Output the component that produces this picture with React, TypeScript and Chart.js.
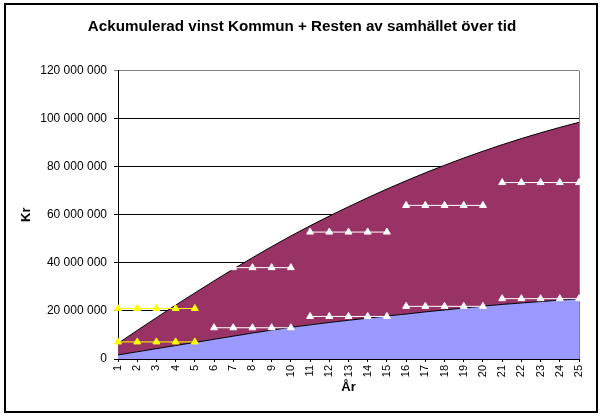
import React, { useEffect, useRef } from "react";
import { Chart, registerables } from "chart.js";

Chart.register(...registerables);

const MILJON = 1000000;

const years = ["1","2","3","4","5","6","7","8","9","10","11","12","13","14","15","16","17","18","19","20","21","22","23","24","25"];

// Ackumulerad vinst, miljoner kr
const kommun = [1.7, 3.0, 4.3, 5.6, 6.9, 8.2, 9.5, 10.8, 12.0, 13.2, 14.2, 15.2, 16.1, 17.0, 17.9, 18.7, 19.6, 20.4, 21.2, 22.0, 22.7, 23.3, 23.9, 24.5, 25.0];
const resten = [4.8, 8.9, 12.9, 16.8, 20.6, 24.3, 27.9, 31.35, 34.75, 38.0, 41.2, 44.25, 47.25, 50.1, 52.8, 55.45, 57.85, 60.2, 62.4, 64.45, 66.45, 68.4, 70.2, 71.85, 73.45];

// Periodnivåer (femårsperioder), miljoner kr
const periodStart = [1, 6, 11, 16, 21];
const periodEnd = [5, 10, 15, 20, 25];
const restenPeriod = [21.0, 38.0, 52.8, 63.9, 73.4];
const kommunPeriod = [7.1, 13.0, 17.7, 21.9, 25.1];
const periodColors = ["#FFFF00", "#FFFFFF", "#FFFFFF", "#FFFFFF", "#FFFFFF"];

const yTicks = [0, 20, 40, 60, 80, 100, 120];

const FONT = "'Liberation Sans', Arial, Helvetica, sans-serif";

function fmt(v: number): string {
  return String(Math.round(v)).replace(/\B(?=(\d{3})+(?!\d))/g, " ");
}

const framePlugin = {
  id: "frame",
  beforeDraw(chart: any) {
    const ctx = chart.ctx;
    ctx.save();
    ctx.fillStyle = "#FFFFFF";
    ctx.fillRect(0, 0, chart.width, chart.height);
    ctx.restore();
  },
  beforeDatasetsDraw(chart: any) {
    const { ctx, chartArea } = chart;
    ctx.save();
    ctx.strokeStyle = "#808080";
    ctx.lineWidth = 1;
    ctx.beginPath();
    const x = Math.round(chartArea.right) + 0.5;
    ctx.moveTo(x, chartArea.top);
    ctx.lineTo(x, chartArea.bottom);
    ctx.stroke();
    ctx.restore();
  },
  afterDraw(chart: any) {
    const ctx = chart.ctx;
    ctx.save();
    ctx.strokeStyle = "#000000";
    ctx.lineWidth = 2;
    ctx.strokeRect(5, 4, 592, 408);
    ctx.restore();
  },
};

export default function App() {
  const ref = useRef<HTMLCanvasElement | null>(null);

  useEffect(() => {
    if (!ref.current) return;
    const total = kommun.map((k, i) => k + resten[i]);

    const lineSets: any[] = [];
    periodStart.forEach((s, p) => {
      const e = periodEnd[p];
      const mk = (level: number) =>
        years.map((y, i) => (i + 1 >= s && i + 1 <= e ? level * MILJON : null));
      [restenPeriod[p], kommunPeriod[p]].forEach((lvl, j) => {
        lineSets.push({
          type: "line",
          label: (j === 0 ? "Resten period " : "Kommun period ") + (p + 1),
          data: mk(lvl),
          borderColor: periodColors[p],
          backgroundColor: periodColors[p],
          borderWidth: 1,
          pointStyle: "triangle",
          pointRadius: 4,
          pointBorderWidth: 1,
          pointBackgroundColor: periodColors[p],
          pointBorderColor: periodColors[p],
          fill: false,
          spanGaps: false,
          order: 0,
        });
      });
    });

    const chart = new Chart(ref.current, {
      type: "line",
      data: {
        labels: years,
        datasets: [
          {
            label: "Kommun",
            data: kommun.map((v) => v * MILJON),
            borderColor: "#000000",
            borderWidth: 1,
            backgroundColor: "#9999FF",
            fill: "origin",
            pointRadius: 0,
            tension: 0,
            order: 1,
          },
          {
            label: "Resten av samhället",
            data: total.map((v) => v * MILJON),
            borderColor: "#000000",
            borderWidth: 1,
            backgroundColor: "#993366",
            fill: "-1",
            pointRadius: 0,
            tension: 0,
            order: 1,
          },
          ...lineSets,
        ],
      },
      options: {
        responsive: false,
        animation: false,
        devicePixelRatio: 1,
        layout: { padding: { left: 0, right: 0, top: 0, bottom: 0 } },
        plugins: {
          legend: { display: false },
          tooltip: { enabled: false },
          title: {
            display: true,
            text: "Ackumulerad vinst Kommun + Resten av samhället över tid",
            color: "#000000",
            font: { family: FONT, size: 15.2, weight: "bold" },
            padding: { top: 18, bottom: 34.3 },
          },
        },
        scales: {
          x: {
            type: "category",
            offset: false,
            grid: { drawOnChartArea: false, drawTicks: true, tickLength: 3, color: "#000000" },
            border: { color: "#000000", width: 1 },
            ticks: {
              autoSkip: false,
              minRotation: 90,
              maxRotation: 90,
              padding: 3,
              color: "#000000",
              font: { family: FONT, size: 11 },
            },
            title: {
              display: true,
              text: "År",
              color: "#000000",
              font: { family: FONT, size: 13, weight: "bold" },
              padding: { top: 0, bottom: 24 },
            },
            afterFit(scale: any) {
              scale.height = 60;
            },
          },
          y: {
            min: 0,
            max: 120 * MILJON,
            afterBuildTicks(scale: any) {
              scale.ticks = yTicks.map((v) => ({ value: v * MILJON }));
            },
            grid: {
              color: (c: any) => (c.tick && c.tick.value === 120 * MILJON ? "#808080" : "#000000"),
              tickLength: 4,
            },
            border: { color: "#000000", width: 1 },
            ticks: {
              padding: 7,
              color: "#000000",
              font: { family: FONT, size: 12 },
              callback: (v: any) => fmt(Number(v)),
            },
            title: {
              display: true,
              text: "Kr",
              color: "#000000",
              font: { family: FONT, size: 13, weight: "bold" },
              padding: { top: 19, bottom: 0 },
            },
            afterFit(scale: any) {
              scale.width = 118;
            },
          },
          spacer: {
            type: "linear",
            position: "right",
            display: true,
            min: 0,
            max: 1,
            grid: { drawOnChartArea: false, drawTicks: false, display: false },
            border: { display: false },
            ticks: { display: false },
            afterFit(scale: any) {
              scale.width = 25;
            },
          },
        },
      } as any,
      plugins: [framePlugin],
    });
    return () => chart.destroy();
  }, []);

  return (
    <div style={{ position: "absolute", left: 0, top: 0, width: 604, height: 419 }}>
      <canvas ref={ref} width={604} height={419} style={{ display: "block", width: 604, height: 419 }} />
    </div>
  );
}
